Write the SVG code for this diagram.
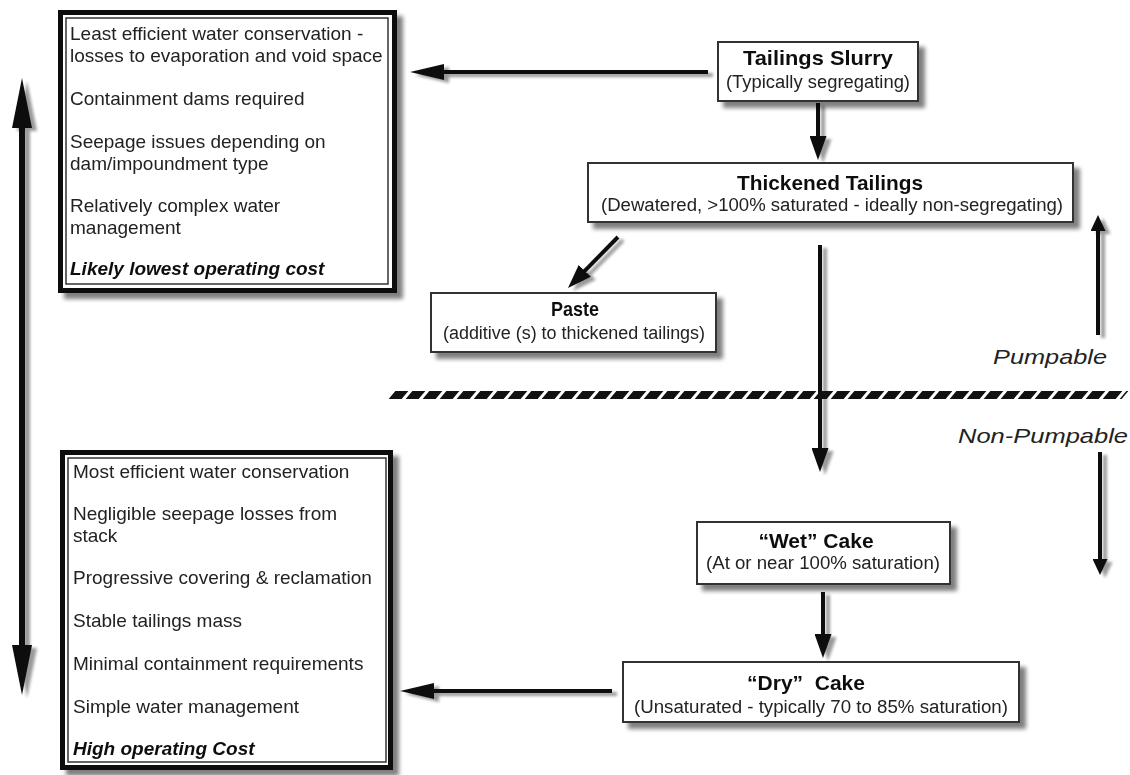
<svg xmlns="http://www.w3.org/2000/svg" width="1130" height="775" viewBox="0 0 1130 775">
<style>
.node rect.b{fill:#fff;stroke:#333;stroke-width:2}
.big rect.o{fill:#fff;stroke:#111;stroke-width:5}
.big rect.i{fill:none;stroke:#333;stroke-width:1.5}
.lt{font-family:"Liberation Sans",Arial,sans-serif;font-size:19px;fill:#222}
.lb{font-family:"Liberation Sans",Arial,sans-serif;font-size:19px;font-weight:bold;font-style:italic;fill:#111}
.nt{font-family:"Liberation Sans Narrow","Liberation Sans",Arial,sans-serif;font-size:21px;font-weight:bold;fill:#111;text-anchor:middle}
.ns{font-family:"Liberation Sans Narrow","Liberation Sans",Arial,sans-serif;font-size:18px;fill:#222;text-anchor:middle}
.wt{font-family:"Liberation Sans",Arial,sans-serif;font-size:21px;font-weight:bold;fill:#111;text-anchor:middle}
.ws{font-family:"Liberation Sans",Arial,sans-serif;font-size:18px;fill:#222;text-anchor:middle}
.it{font-family:"Liberation Sans Narrow","Liberation Sans",Arial,sans-serif;font-size:21px;font-style:italic;fill:#222;text-anchor:middle}
.cn line{stroke:#111;fill:none}
</style>
<defs>
<filter id="sh" x="-20%" y="-20%" width="150%" height="150%">
<feGaussianBlur in="SourceAlpha" stdDeviation="2"/>
<feOffset dx="6" dy="6" result="o"/>
<feComponentTransfer><feFuncA type="linear" slope="0.5"/></feComponentTransfer>
<feMerge><feMergeNode/><feMergeNode in="SourceGraphic"/></feMerge>
</filter>
<filter id="ash" x="-50%" y="-50%" width="200%" height="200%">
<feGaussianBlur in="SourceAlpha" stdDeviation="1.5"/>
<feOffset dx="5" dy="3" result="o"/>
<feComponentTransfer><feFuncA type="linear" slope="0.4"/></feComponentTransfer>
<feMerge><feMergeNode/><feMergeNode in="SourceGraphic"/></feMerge>
</filter>
<marker id="m1" markerUnits="userSpaceOnUse" markerWidth="34" markerHeight="16" refX="17" refY="8" orient="auto"><path d="M0,0 L34,8 L0,16 Z" fill="#111"/></marker>
<marker id="m2" markerUnits="userSpaceOnUse" markerWidth="24" markerHeight="17" refX="12" refY="8.5" orient="auto"><path d="M0,0 L24,8.5 L0,17 Z" fill="#111"/></marker>
<marker id="m3" markerUnits="userSpaceOnUse" markerWidth="16" markerHeight="15" refX="8" refY="7.5" orient="auto"><path d="M0,0 L16,7.5 L0,15 Z" fill="#111"/></marker>
<marker id="m4" markerUnits="userSpaceOnUse" markerWidth="50" markerHeight="20" refX="25" refY="10" orient="auto-start-reverse"><path d="M0,0 L50,10 L0,20 Z" fill="#111"/></marker>
</defs>
<rect width="1130" height="775" fill="#fff"/>

<g id="connectors" class="cn" filter="url(#ash)">
<line x1="22" y1="103" x2="22" y2="670" stroke-width="6" marker-start="url(#m4)" marker-end="url(#m4)"/>
<line x1="708" y1="72" x2="427" y2="72" stroke-width="4" marker-end="url(#m1)"/>
<line x1="818" y1="103" x2="818" y2="148" stroke-width="4" marker-end="url(#m2)"/>
<line x1="618" y1="237" x2="576.4" y2="279.4" stroke-width="4" marker-end="url(#m2)"/>
<line x1="820" y1="245" x2="820" y2="460" stroke-width="4" marker-end="url(#m2)"/>
<line x1="823" y1="592" x2="823" y2="646" stroke-width="4" marker-end="url(#m2)"/>
<line x1="612" y1="691" x2="417" y2="691" stroke-width="4" marker-end="url(#m1)"/>
<line x1="1098" y1="335" x2="1098" y2="223" stroke-width="4" marker-end="url(#m3)"/>
<line x1="1100" y1="452" x2="1100" y2="567" stroke-width="4" marker-end="url(#m3)"/>
</g>

<g id="divider">
<g transform="translate(388,395) skewX(-40)">
<line x1="4" y1="0" x2="737" y2="0" stroke="#111" stroke-width="8" stroke-dasharray="13 4"/>
</g>
</g>

<g id="box-top" class="big" filter="url(#sh)">
<rect class="o" x="60.5" y="12.5" width="334" height="278"/>
<rect class="i" x="66" y="18" width="322" height="266"/>
<text class="lt" x="70" y="40">Least efficient water conservation -</text>
<text class="lt" x="70" y="62">losses to evaporation and void space</text>
<text class="lt" x="70" y="105">Containment dams required</text>
<text class="lt" x="70" y="148">Seepage issues depending on</text>
<text class="lt" x="70" y="170">dam/impoundment type</text>
<text class="lt" x="70" y="212">Relatively complex water</text>
<text class="lt" x="70" y="234">management</text>
<text class="lb" x="70" y="275">Likely lowest operating cost</text>
</g>

<g id="box-bottom" class="big" filter="url(#sh)">
<rect class="o" x="62.5" y="452.5" width="328" height="315"/>
<rect class="i" x="68" y="458" width="318" height="304"/>
<text class="lt" x="73" y="478">Most efficient water conservation</text>
<text class="lt" x="73" y="520">Negligible seepage losses from</text>
<text class="lt" x="73" y="542">stack</text>
<text class="lt" x="73" y="584">Progressive covering &amp; reclamation</text>
<text class="lt" x="73" y="627">Stable tailings mass</text>
<text class="lt" x="73" y="670">Minimal containment requirements</text>
<text class="lt" x="73" y="713">Simple water management</text>
<text class="lb" x="73" y="755">High operating Cost</text>
</g>

<g id="slurry" class="node" filter="url(#sh)">
<rect class="b" x="718" y="42" width="200" height="59"/>
<text class="nt" x="818" y="65" textLength="150" lengthAdjust="spacingAndGlyphs">Tailings Slurry</text>
<text class="ns" x="818" y="88" textLength="184" lengthAdjust="spacingAndGlyphs">(Typically segregating)</text>
</g>

<g id="thickened" class="node" filter="url(#sh)">
<rect class="b" x="588" y="163" width="485" height="59"/>
<text class="nt" x="830" y="190" textLength="186" lengthAdjust="spacingAndGlyphs">Thickened Tailings</text>
<text class="ns" x="832" y="211" textLength="462" lengthAdjust="spacingAndGlyphs">(Dewatered, &gt;100% saturated - ideally non-segregating)</text>
</g>

<g id="paste" class="node" filter="url(#sh)">
<rect class="b" x="431" y="293" width="285" height="59"/>
<text class="nt" x="575" y="316" textLength="48" lengthAdjust="spacingAndGlyphs">Paste</text>
<text class="ns" x="574" y="339" textLength="262" lengthAdjust="spacingAndGlyphs">(additive (s) to thickened tailings)</text>
</g>

<g id="wet" class="node" filter="url(#sh)">
<rect class="b" x="697" y="522" width="253" height="62"/>
<text class="wt" x="816" y="548">“Wet” Cake</text>
<text class="ws" x="823" y="569" textLength="234" lengthAdjust="spacingAndGlyphs">(At or near 100% saturation)</text>
</g>

<g id="dry" class="node" filter="url(#sh)">
<rect class="b" x="623" y="662" width="396" height="60"/>
<text class="wt" x="806" y="690" xml:space="preserve">“Dry”  Cake</text>
<text class="ws" x="821" y="713" textLength="374" lengthAdjust="spacingAndGlyphs">(Unsaturated - typically 70 to 85% saturation)</text>
</g>

<g id="labels">
<text class="it" x="1050" y="364" textLength="114" lengthAdjust="spacingAndGlyphs">Pumpable</text>
<text class="it" x="1043" y="443" textLength="170" lengthAdjust="spacingAndGlyphs">Non-Pumpable</text>
</g>
</svg>
